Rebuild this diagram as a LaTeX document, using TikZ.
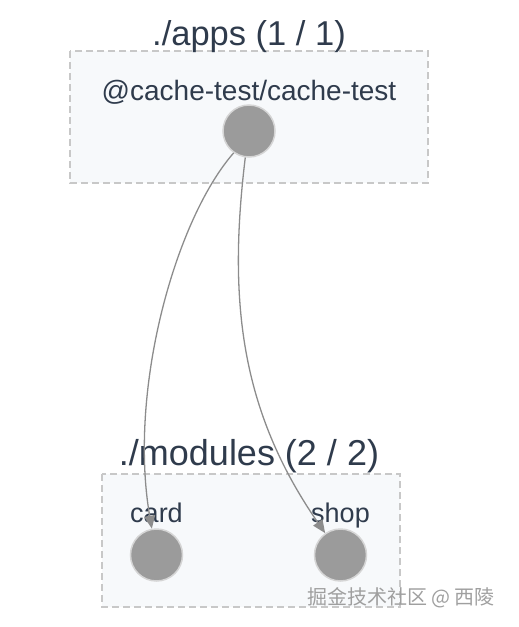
\documentclass[tikz,border=0pt]{standalone}
\usepackage{fontspec}
\setmainfont{Liberation Sans}
\newfontfamily\cjk{Noto Sans CJK SC}
\usetikzlibrary{arrows.meta}

\definecolor{textgray}{HTML}{2F3B4C}
\definecolor{boxfill}{HTML}{F7F9FB}
\definecolor{boxline}{HTML}{C8C8C8}
\definecolor{dotfill}{HTML}{9B9B9B}
\definecolor{dotline}{HTML}{D5D5D5}
\definecolor{edgegray}{HTML}{8C8C8C}

\begin{document}
\begin{tikzpicture}[x=1pt,y=-1pt,
			group/.style={
				draw=boxline,
				fill=boxfill,
				dashed,
				dash pattern=on 7pt off 4pt,
				line width=1.2pt
			},
			title/.style={
				anchor=base,
				text=textgray,
				font=\fontsize{34.5}{40}\selectfont
			},
			label/.style={
				anchor=base,
				text=textgray,
				font=\fontsize{27}{32}\selectfont
			},
			dot/.style={
				circle,
				draw=dotline,
				fill=dotfill,
				line width=1.5pt,
				minimum size=52pt,
				inner sep=0pt
			},
			link/.style={
				draw=edgegray,
				line width=1.3pt,
				-{Triangle[length=13pt,width=11pt]}
			}]
			
			\useasboundingbox (0,0) rectangle (519,627);
			
			\draw[group] (70,51) rectangle (428,183);
			
			\draw[group] (102,474) rectangle (400,607);
			
			\node(apps)[title] at (249,45){./apps (1 / 1)};
			
			\node(modules)[title,font=\fontsize{36}{42}\selectfont] at (249,465){./modules (2 / 2)};
			
			\node(ctlabel)[label,font=\fontsize{28}{33}\selectfont] at (249,100){@cache-test/cache-test};
			
			\node(ct)[dot] at (249,131){};
			
			\node(cardlabel)[label] at (156.5,522){card};
			
			\node(card)[dot] at (156.5,555){};
			
			\node(shoplabel)[label] at (340.5,522){shop};
			
			\node(shop)[dot] at (340.5,555){};
			
			\draw[link](ct.235) .. controls (175,220) and (128,390) .. (card.100);
			
			\draw[link](ct.262) .. controls (228,300) and (240,410) .. (shop.125);
			
			\node(mark)[anchor=base,text=gray!75,font=\cjk\fontsize{20}{24}\selectfont] at (401,604){掘金技术社区 @ 西陵};
			
		\end{tikzpicture}
\end{document}
